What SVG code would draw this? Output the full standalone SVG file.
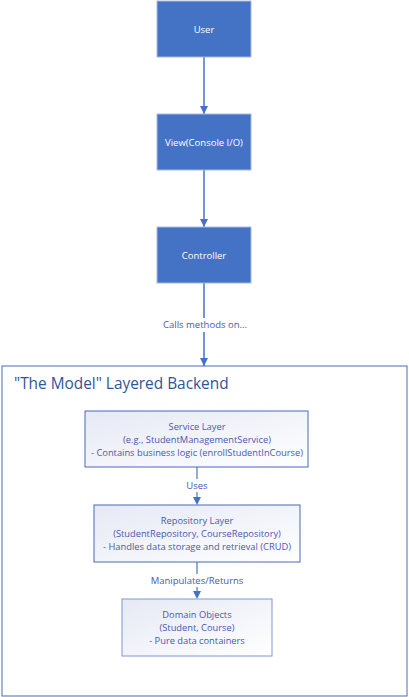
<svg xmlns="http://www.w3.org/2000/svg" width="409" height="697" viewBox="0 0 409 697">
<style>
.top{fill:#4472C4;stroke:#A9B9DC;stroke-width:1}
.tt{font-family:"Open Sans","Noto Sans",sans-serif;font-size:9.5px;fill:#FFFFFF;text-anchor:middle}
.inner{fill:url(#g);stroke:#4A68B8;stroke-width:1}
.it{font-family:"Open Sans","Noto Sans",sans-serif;font-size:9.3px;fill:#4A57B0;text-anchor:middle}
.lbl{font-family:"Open Sans","Noto Sans",sans-serif;font-size:9.5px;fill:#4A57B0;text-anchor:middle}
.c1{stroke:#4472C4;stroke-width:1.5;fill:none}
.c2{stroke:#94ABDA;stroke-width:2;fill:none}
</style>
<defs>
<linearGradient id="g" x1="0" y1="0" x2="1" y2="1">
<stop offset="0" stop-color="#E6E9F5"/>
<stop offset="1" stop-color="#FFFFFF"/>
</linearGradient>
<marker id="ah" viewBox="0 0 10 10" refX="10" refY="5" markerWidth="8" markerHeight="8" markerUnits="userSpaceOnUse" orient="auto">
<path d="M0,0 L10,5 L0,10 z" fill="#4472C4"/>
</marker>
</defs>
<g id="connectors">
<line class="c1" x1="204" y1="57" x2="204" y2="114" marker-end="url(#ah)"/>
<line class="c1" x1="204" y1="170" x2="204" y2="227" marker-end="url(#ah)"/>
<line class="c1" x1="204" y1="283" x2="204" y2="318"/>
<line class="c1" x1="204" y1="332" x2="204" y2="366" marker-end="url(#ah)"/>
<text class="lbl" x="205" y="328">Calls methods on...</text>
<line class="c2" x1="197" y1="467" x2="197" y2="479"/>
<line class="c2" x1="197" y1="492" x2="197" y2="498"/>
<path d="M193,497 L201,497 L197,505 z" fill="#4472C4"/>
<text class="lbl" x="197" y="489">Uses</text>
<line class="c2" x1="197" y1="562" x2="197" y2="574"/>
<line class="c2" x1="197" y1="587" x2="197" y2="592"/>
<path d="M193,591 L201,591 L197,599 z" fill="#4472C4"/>
<text class="lbl" x="197" y="584">Manipulates/Returns</text>
</g>
<g id="user"><rect class="top" x="157" y="1" width="94" height="56"/><text class="tt" x="204" y="33">User</text></g>
<g id="view"><rect class="top" x="157" y="114" width="94" height="56"/><text class="tt" x="204" y="146">View(Console I/O)</text></g>
<g id="controller"><rect class="top" x="157" y="227" width="94" height="56"/><text class="tt" x="204" y="259">Controller</text></g>
<g id="model">
<rect x="2" y="366" width="405" height="330" fill="none" stroke="#4A6DB8" stroke-width="1"/>
<text x="14" y="389" font-family="'Open Sans','Noto Sans',sans-serif" font-size="15.4px" fill="#2F5597">"The Model" Layered Backend</text>
</g>
<g id="service"><rect class="inner" x="85" y="411" width="223" height="56"/>
<text class="it" x="197" y="430">Service Layer</text>
<text class="it" x="197" y="443">(e.g., StudentManagementService)</text>
<text class="it" x="197" y="456">- Contains business logic (enrollStudentInCourse)</text></g>
<g id="repository"><rect class="inner" x="94" y="505" width="206" height="57"/>
<text class="it" x="197" y="524">Repository Layer</text>
<text class="it" x="197" y="537">(StudentRepository, CourseRepository)</text>
<text class="it" x="197" y="550">- Handles data storage and retrieval (CRUD)</text></g>
<g id="domain"><rect class="inner" x="122" y="599" width="150" height="57" style="stroke:#7F98D2"/>
<text class="it" x="197" y="618">Domain Objects</text>
<text class="it" x="197" y="631">(Student, Course)</text>
<text class="it" x="197" y="644">- Pure data containers</text></g>
</svg>
